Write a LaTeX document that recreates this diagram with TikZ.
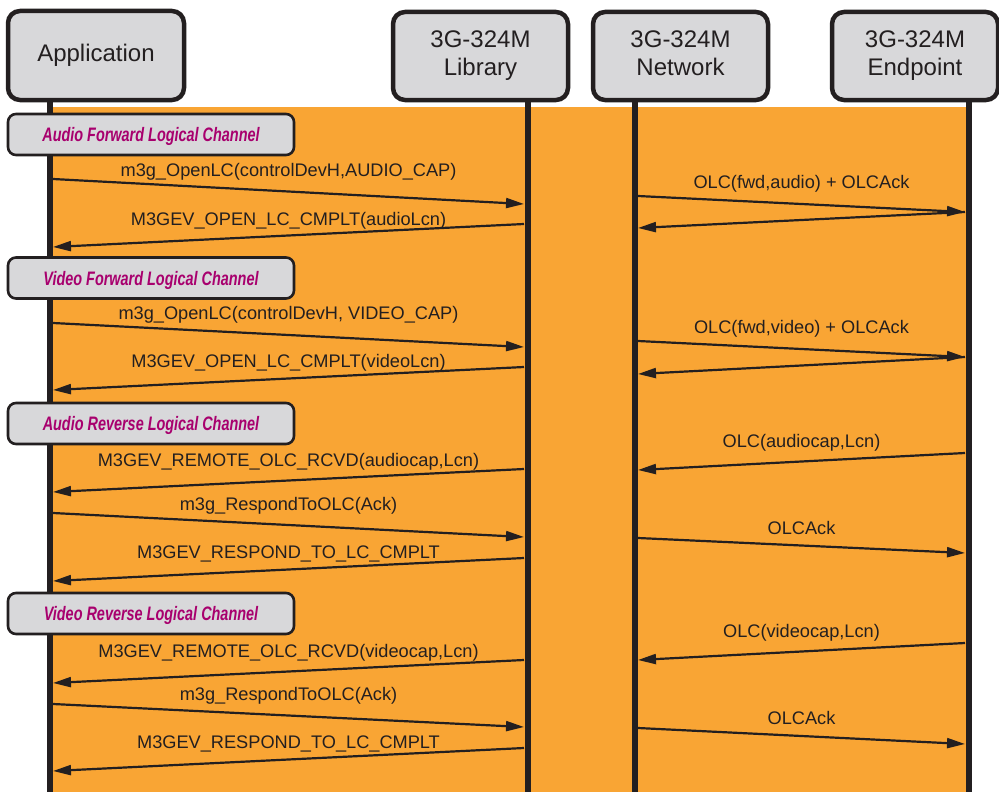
\documentclass[tikz,border=0pt]{standalone}
\usepackage{fontspec}
\setmainfont{Liberation Sans}
\newfontfamily\narrowfont[FakeStretch=0.74]{Liberation Sans}
\usetikzlibrary{arrows.meta}

\definecolor{ink}{HTML}{231F20}
\definecolor{boxgray}{HTML}{D8D8DA}
\definecolor{bgorange}{RGB}{249,165,52}
\definecolor{phase}{RGB}{168,0,110}

% one message: start lifeline, start depth, end lifeline, end depth, label, label lift
\newcommand{\msg}[6]{%
  \draw[msgarrow] ([yshift=-#2pt]#1) -- ([yshift=-#4pt]#3)
    node[lbl, midway, yshift=#6pt] {#5};}

\begin{document}
\begin{tikzpicture}[x=1pt, y=-1pt,
  party/.style={draw=ink, line width=4.5pt, fill=boxgray, rounded corners=12pt,
    text=ink, font=\fontsize{24}{28}\selectfont, align=center, inner sep=0pt},
  phasebox/.style={draw=ink, line width=2.6pt, fill=boxgray, rounded corners=8pt,
    minimum width=286pt, minimum height=41pt, inner sep=0pt, text depth=0pt,
    text=phase, font=\narrowfont\bfseries\itshape\fontsize{19.5}{22}\selectfont},
  life/.style={draw=ink, line width=6pt},
  msgarrow/.style={draw=ink, line width=2.2pt, -{Triangle[length=18pt,width=10pt]}},
  lbl/.style={text=ink, font=\fontsize{18.2}{20}\selectfont, anchor=base, inner sep=0pt}]

\useasboundingbox (0,0) rectangle (999,792);

% orange backdrop behind the message flow
\fill[bgorange] (53,107) rectangle (967,792);

% lifeline feet
\coordinate (appL) at (50,792);
\coordinate (libL) at (527.5,792);
\coordinate (netL) at (635,792);
\coordinate (endL) at (968.5,792);

% lifelines
\draw[life] (50,95) -- (appL);
\draw[life] (527.5,95) -- (libL);
\draw[life] (635,95) -- (netL);
\draw[life] (968.5,95) -- (endL);

% participants
\node[party, minimum width=176pt, minimum height=89pt] (app) at (96,55.5) {Application};
\node[party, minimum width=175pt, minimum height=88pt] (lib) at (480.5,56) {3G-324M\\Library\vphantom{y}};
\node[party, minimum width=175pt, minimum height=88pt] (net) at (680.5,56) {3G-324M\\Network\vphantom{y}};
\node[party, minimum width=166pt, minimum height=88pt] (end) at (915,56) {3G-324M\\Endpoint\vphantom{y}};

% arrow attachment points on the lifeline edges
\coordinate (A)  at (53,0);
\coordinate (Ll) at (524,0);
\coordinate (Nr) at (638,0);
\coordinate (E)  at (965,0);

% phase headings
\node[phasebox] (p1) at (151,134.5) {Audio Forward Logical Channel};
\node[phasebox] (p2) at (151,278) {Video Forward Logical Channel};
\node[phasebox] (p3) at (151,423.5) {Audio Reverse Logical Channel};
\node[phasebox] (p4) at (151,613.5) {Video Reverse Logical Channel};

% audio forward
\msg{A}{179}{Ll}{204}{m3g\_OpenLC(controlDevH,AUDIO\_CAP)}{15.5}
\msg{Ll}{224}{A}{247}{M3GEV\_OPEN\_LC\_CMPLT(audioLcn)}{10.5}
\msg{Nr}{196}{E}{212}{OLC(fwd,audio) + OLCAck}{16}
\draw[msgarrow] ([yshift=-212pt]E) -- ([yshift=-228pt]Nr);

% video forward
\msg{A}{323}{Ll}{347}{m3g\_OpenLC(controlDevH, VIDEO\_CAP)}{16}
\msg{Ll}{367}{A}{390}{M3GEV\_OPEN\_LC\_CMPLT(videoLcn)}{11.5}
\msg{Nr}{341}{E}{357}{OLC(fwd,video) + OLCAck}{16}
\draw[msgarrow] ([yshift=-357pt]E) -- ([yshift=-374pt]Nr);

% audio reverse
\msg{E}{453}{Nr}{470}{OLC(audiocap,Lcn)}{14.5}
\msg{Ll}{469}{A}{492}{M3GEV\_REMOTE\_OLC\_RCVD(audiocap,Lcn)}{14.5}
\msg{A}{513}{Ll}{537}{m3g\_RespondToOLC(Ack)}{15}
\msg{Nr}{538}{E}{553}{OLCAck}{11.5}
\msg{Ll}{558}{A}{581}{M3GEV\_RESPOND\_TO\_LC\_CMPLT}{11.5}

% video reverse
\msg{E}{643}{Nr}{660}{OLC(videocap,Lcn)}{14.5}
\msg{Ll}{660}{A}{683}{M3GEV\_REMOTE\_OLC\_RCVD(videocap,Lcn)}{14.5}
\msg{A}{704}{Ll}{727}{m3g\_RespondToOLC(Ack)}{15}
\msg{Nr}{728}{E}{744}{OLCAck}{11.5}
\msg{Ll}{748}{A}{771}{M3GEV\_RESPOND\_TO\_LC\_CMPLT}{11.5}

\end{tikzpicture}
\end{document}
